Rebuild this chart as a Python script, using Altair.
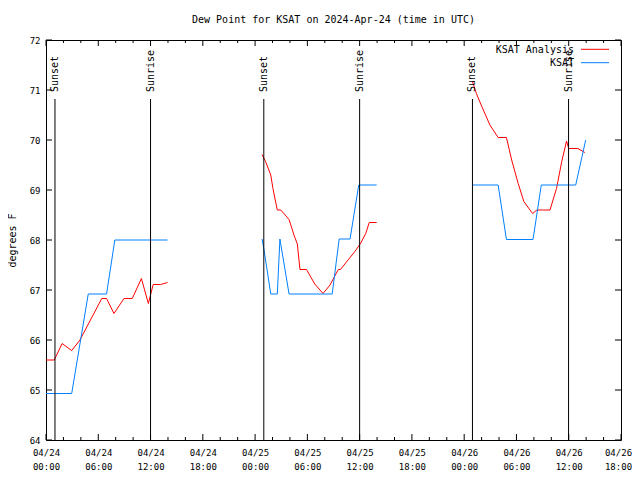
import json
import altair as alt
import pandas as pd

TITLE = "Dew Point for KSAT on 2024-Apr-24 (time in UTC)"

# hours since 2024-04-24 00:00 UTC
ana_hours = [0.0, 0.95, 1.85, 2.95, 3.9, 6.4, 6.95, 7.8, 8.95, 9.9, 10.95, 11.75, 12.3, 13.15, 13.95,
             24.8, 25.2, 25.8, 26.05, 26.55, 26.95, 27.9, 28.5, 28.85, 29.15, 29.9, 30.85, 31.8, 32.6,
             33.55, 33.8, 35.45, 36.1, 36.7, 37.1, 37.95,
             48.95, 49.4, 50.0, 50.95, 51.9, 52.85, 53.45, 54.2, 54.85, 55.85, 56.35, 57.0, 57.85,
             58.6, 59.2, 59.75, 60.0, 61.05, 61.85]
ana_values = [65.6, 65.6, 65.93, 65.79, 66.0, 66.83, 66.83, 66.53, 66.83, 66.83, 67.23, 66.73, 67.11, 67.11, 67.15,
              69.71, 69.57, 69.3, 69.03, 68.6, 68.6, 68.41, 68.08, 67.92, 67.41, 67.41, 67.12, 66.93, 67.1,
              67.41, 67.41, 67.77, 67.93, 68.13, 68.35, 68.35,
              71.17, 70.93, 70.68, 70.3, 70.05, 70.05, 69.6, 69.13, 68.77, 68.53, 68.6, 68.6, 68.6,
              69.03, 69.57, 69.98, 69.83, 69.83, 69.75]

obs_hours = [0.0, 2.95, 4.85, 6.95, 7.9, 13.95,
             24.8, 25.0, 25.8, 26.55, 26.85, 27.9, 32.85, 33.65, 34.9, 35.9, 37.95,
             48.95, 51.9, 52.85, 55.9, 56.85, 60.8, 61.95]
obs_values = [64.93, 64.93, 66.92, 66.92, 68.0, 68.0,
              68.02, 67.83, 66.92, 66.92, 68.02, 66.92, 66.92, 68.02, 68.02, 69.1, 69.1,
              69.1, 69.1, 68.01, 68.01, 69.1, 69.1, 70.0]

sun_hours = [1.03, 12.0, 25.0, 36.0, 48.95, 59.98]
sun_labels = ["Sunset", "Sunrise", "Sunset", "Sunrise", "Sunset", "Sunrise"]

x_major = [0, 6, 12, 18, 24, 30, 36, 42, 48, 54, 60, 66]
x_minor = [2, 4, 8, 10, 14, 16, 20, 22, 26, 28, 32, 34, 38, 40, 44, 46, 50, 52, 56, 58, 62, 64]
x_dates = ["04/24", "04/24", "04/24", "04/24", "04/25", "04/25", "04/25", "04/25",
           "04/26", "04/26", "04/26", "04/26"]
x_times = ["00:00", "06:00", "12:00", "18:00", "00:00", "06:00", "12:00", "18:00",
           "00:00", "06:00", "12:00", "18:00"]
y_ticks = [64, 65, 66, 67, 68, 69, 70, 71, 72]

RED = "#ff0000"
BLUE = "#0080ff"
MONO = "DejaVu Sans Mono"
W, H = 575, 400

xs = alt.Scale(domain=[0, 66], nice=False, zero=False)
ys = alt.Scale(domain=[64, 72], nice=False, zero=False)

idx = f"indexof({json.dumps(x_major)}, datum.value)"
label_expr = f"[{json.dumps(x_dates)}[{idx}], {json.dumps(x_times)}[{idx}]]"

ana = pd.DataFrame({"h": ana_hours, "v": ana_values})
obs = pd.DataFrame({"h": obs_hours, "v": obs_values})
sun = pd.DataFrame({"h": sun_hours, "label": sun_labels})

X_AXIS = alt.Axis(
    values=x_major, labelExpr=label_expr, ticks=False, domain=False, grid=False, title=None,
    labelFont=MONO, labelFontSize=9, labelPadding=8, labelLineHeight=14, labelColor="black",
    labelAngle=0, labelOverlap=False, labelFlush=False, labelBaseline="top",
    labelOffset=alt.ConditionalAxisNumber(condition={"test": "datum.value == 66", "value": -3}, value=0))
Y_AXIS = alt.Axis(
    values=y_ticks, ticks=False, domain=False, grid=False, title="degrees F",
    labelFont=MONO, labelFontSize=9, labelPadding=6, labelColor="black", labelFlush=False,
    titleFont=MONO, titleFontSize=10, titleFontWeight="normal", titleColor="black", titlePadding=12)


def X():
    return alt.X("h:Q", scale=xs, axis=X_AXIS)


def Y():
    return alt.Y("v:Q", scale=ys, axis=Y_AXIS)


ana_line = alt.Chart(ana).transform_calculate(day="floor(datum.h / 24)").mark_line(
    color=RED, strokeWidth=1).encode(x=X(), y=Y(), detail="day:N")
obs_line = alt.Chart(obs).transform_calculate(day="floor(datum.h / 24)").mark_line(
    color=BLUE, strokeWidth=1).encode(x=X(), y=Y(), detail="day:N")

sun_rule = alt.Chart(sun).mark_rule(color="black", strokeWidth=1).encode(
    x=X(), y=alt.value(59), y2=alt.value(H))
sun_text = alt.Chart(sun).mark_text(angle=270, align="left", baseline="middle",
                                    font=MONO, fontSize=10, color="black").encode(
    x=X(), y=alt.value(52), text="label:N")


def xticks(vals, length):
    df = pd.DataFrame({"h": vals})
    bottom = alt.Chart(df).mark_rule(color="black", strokeWidth=1).encode(
        x=X(), y=alt.value(H), y2=alt.value(H - length))
    top = alt.Chart(df).mark_rule(color="black", strokeWidth=1).encode(
        x=X(), y=alt.value(0), y2=alt.value(length))
    return [bottom, top]


ydf = pd.DataFrame({"v": y_ticks})
ytick_left = alt.Chart(ydf).mark_rule(color="black", strokeWidth=1).encode(
    y=Y(), x=alt.value(0), x2=alt.value(6))
ytick_right = alt.Chart(ydf).mark_rule(color="black", strokeWidth=1).encode(
    y=Y(), x=alt.value(W), x2=alt.value(W - 6))

one = pd.DataFrame({"a": [0]})
leg = [
    alt.Chart(one).mark_text(align="right", baseline="middle", font=MONO, fontSize=10,
                             color="black", text="KSAT Analysis").encode(
        x=alt.value(528), y=alt.value(9.5)),
    alt.Chart(one).mark_text(align="right", baseline="middle", font=MONO, fontSize=10,
                             color="black", text="KSAT").encode(
        x=alt.value(528), y=alt.value(23)),
    alt.Chart(one).mark_rule(color=RED, strokeWidth=1).encode(
        x=alt.value(535), x2=alt.value(563), y=alt.value(9.3)),
    alt.Chart(one).mark_rule(color=BLUE, strokeWidth=1).encode(
        x=alt.value(535), x2=alt.value(563), y=alt.value(22.7)),
]

layers = [ana_line, obs_line, sun_rule, sun_text] + xticks(x_major, 6) + xticks(x_minor, 3) \
    + [ytick_left, ytick_right] + leg

chart = alt.layer(*layers).properties(
    width=W, height=H,
    title=alt.Title(TITLE, font=MONO, fontSize=10, fontWeight="normal", anchor="middle",
                    color="black", offset=11),
    autosize=alt.AutoSizeParams(type="none"),
    padding={"left": 38, "top": 32, "right": 11, "bottom": 32},
    background="white",
).configure_view(stroke="black", strokeWidth=1)

chart.save("out.html", embed_options={"renderer": "svg", "actions": False})
